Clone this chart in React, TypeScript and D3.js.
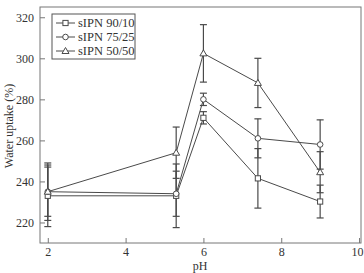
import React, { useEffect, useRef } from 'react';
import * as d3 from 'd3';

const phValues = [2, 5.3, 6, 7.4, 9];
const seriesNames = ['sIPN 90/10', 'sIPN 75/25', 'sIPN 50/50'];
const markers = ['square', 'circle', 'triangle'];
const uptake9010 = [233, 233, 271, 241.5, 230.2];
const uptake7525 = [235, 234, 280, 261, 258];
const uptake5050 = [235, 254, 302.4, 288, 244.5];
const err9010 = [15, 15.5, 3, 14.5, 8];
const err7525 = [12, 11, 3, 9.5, 12];
const err5050 = [14, 12.5, 14, 12, 10];
const xTicks = [2, 4, 6, 8, 10];
const yTicks = [220, 240, 260, 280, 300, 320];

const App = () => {
  const ref = useRef<SVGSVGElement>(null);

  useEffect(() => {
    const svg = d3.select(ref.current);
    svg.selectAll('*').remove();

    const left = 40, right = 361, top = 7, bottom = 243;
    const x = d3.scaleLinear().domain([1.8, 10.05]).range([left, right]);
    const y = d3.scaleLinear().domain([210, 325]).range([bottom, top]);
    const ink = '#4a4a4a';
    const font = '"Liberation Serif", "DejaVu Serif", serif';

    // frame
    svg.append('rect')
      .attr('x', left).attr('y', top)
      .attr('width', right - left).attr('height', bottom - top)
      .attr('fill', 'none').attr('stroke', '#777').attr('stroke-width', 1);

    // axes, ticks pointing inside
    const xAxis = svg.append('g')
      .attr('transform', 'translate(0,' + bottom + ')')
      .call(d3.axisBottom(x).tickValues(xTicks).tickSizeInner(-5).tickSizeOuter(0).tickPadding(4));
    const yAxis = svg.append('g')
      .attr('transform', 'translate(' + left + ',0)')
      .call(d3.axisLeft(y).tickValues(yTicks).tickSizeInner(-5).tickSizeOuter(0).tickPadding(6));
    [xAxis, yAxis].forEach(g => {
      g.select('.domain').remove();
      g.selectAll('line').attr('stroke', '#777');
      g.selectAll('text').attr('fill', '#333').style('font-family', font).style('font-size', '12px');
    });
    // last x label would run off the edge
    xAxis.selectAll('text').filter((d: any) => d === 10)
      .attr('text-anchor', 'end').attr('x', 4);

    svg.append('text')
      .attr('x', 200).attr('y', 270)
      .attr('text-anchor', 'middle')
      .style('font-family', font).style('font-size', '12px').attr('fill', '#333')
      .text('pH');
    svg.append('text')
      .attr('transform', 'translate(13,126) rotate(-90)')
      .attr('text-anchor', 'middle')
      .style('font-family', font).style('font-size', '12px').attr('fill', '#333')
      .text('Water uptake (%)');

    const allValues = [uptake9010, uptake7525, uptake5050];
    const allErrors = [err9010, err7525, err5050];

    const line = d3.line<number>()
      .x((d, i) => x(phValues[i]))
      .y(d => y(d));

    const drawMarker = (g: any, kind: string, cx: number, cy: number) => {
      if (kind === 'square') {
        g.append('rect').attr('x', cx - 2.6).attr('y', cy - 2.6).attr('width', 5.2).attr('height', 5.2)
          .attr('fill', 'white').attr('stroke', ink).attr('stroke-width', 1);
      } else if (kind === 'circle') {
        g.append('circle').attr('cx', cx).attr('cy', cy).attr('r', 2.8)
          .attr('fill', 'white').attr('stroke', ink).attr('stroke-width', 1);
      } else {
        g.append('path')
          .attr('d', `M${cx},${cy - 3.5}L${cx + 3.5},${cy + 2.5}L${cx - 3.5},${cy + 2.5}Z`)
          .attr('fill', 'white').attr('stroke', ink).attr('stroke-width', 1);
      }
    };

    // error bars under the lines
    allValues.forEach((vals, s) => {
      const g = svg.append('g');
      vals.forEach((v, i) => {
        const e = allErrors[s][i];
        const cx = x(phValues[i]);
        g.append('line').attr('x1', cx).attr('x2', cx).attr('y1', y(v - e)).attr('y2', y(v + e))
          .attr('stroke', ink).attr('stroke-width', 1.2);
        [v - e, v + e].forEach(c => {
          g.append('line').attr('x1', cx - 3.5).attr('x2', cx + 3.5).attr('y1', y(c)).attr('y2', y(c))
            .attr('stroke', ink).attr('stroke-width', 1.2);
        });
      });
    });

    allValues.forEach((vals, s) => {
      const g = svg.append('g');
      g.append('path').datum(vals).attr('d', line)
        .attr('fill', 'none').attr('stroke', ink).attr('stroke-width', 1);
      vals.forEach((v, i) => drawMarker(g, markers[s], x(phValues[i]), y(v)));
    });

    // legend
    const lg = svg.append('g');
    lg.append('rect').attr('x', 52).attr('y', 14).attr('width', 83).attr('height', 45)
      .attr('fill', 'white').attr('stroke', '#555').attr('stroke-width', 1);
    seriesNames.forEach((name, i) => {
      const ly = 23 + i * 14;
      lg.append('line').attr('x1', 56).attr('x2', 75).attr('y1', ly).attr('y2', ly)
        .attr('stroke', ink).attr('stroke-width', 1);
      drawMarker(lg, markers[i], 65.5, ly);
      lg.append('text').attr('x', 78).attr('y', ly + 4)
        .style('font-family', font).style('font-size', '12.5px').attr('fill', '#333')
        .text(name);
    });
  }, []);

  return (
    <svg ref={ref} width={364} height={273}
      style={{ position: 'absolute', left: 0, top: 0, background: 'white' }} />
  );
};

export default App;
